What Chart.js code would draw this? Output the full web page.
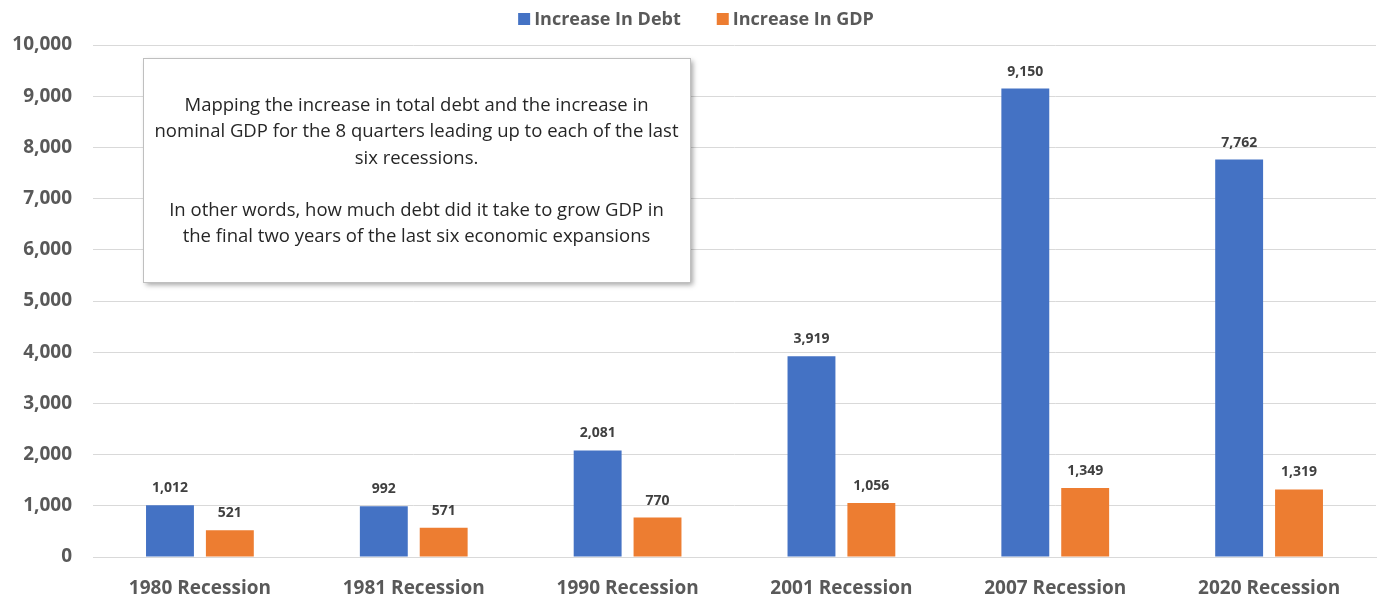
<!DOCTYPE html>
<html>
<head>
<meta charset="utf-8">
<script src="https://cdn.jsdelivr.net/npm/chart.js@4"></script>
<style>
  html, body { margin: 0; padding: 0; background: #fff; }
  #wrap { width: 1380px; height: 598px; }
</style>
</head>
<body>
<div id="wrap"><canvas id="chart"></canvas></div>
<script>
const categories = ['1980 Recession', '1981 Recession', '1990 Recession', '2001 Recession', '2007 Recession', '2020 Recession'];
const debtIncrease = [1012, 992, 2081, 3919, 9150, 7762];
const gdpIncrease = [521, 571, 770, 1056, 1349, 1319];
const noteLines = [
  'Mapping the increase in total debt and the increase in',
  'nominal GDP for the 8 quarters leading up to each of the last',
  'six recessions.',
  '',
  'In other words, how much debt did it take to grow GDP in',
  'the final two years of the last six economic expansions'
];

const FONT = '"Open Sans", sans-serif';
const GREY = '#595959';

// value labels above each bar
const barLabels = {
  id: 'barLabels',
  afterDatasetsDraw(chart) {
    const ctx = chart.ctx;
    ctx.save();
    ctx.font = 'bold 14px ' + FONT;
    ctx.fillStyle = '#404040';
    ctx.textAlign = 'center';
    ctx.textBaseline = 'middle';
    chart.data.datasets.forEach((ds, i) => {
      chart.getDatasetMeta(i).data.forEach((bar, j) => {
        ctx.fillText(ds.data[j].toLocaleString('en-US'), bar.x, bar.y - 17);
      });
    });
    ctx.restore();
  }
};

// legend drawn by hand so the item spacing can match
const topLegend = {
  id: 'topLegend',
  afterDraw(chart) {
    const ctx = chart.ctx;
    ctx.save();
    ctx.font = 'bold 18px ' + FONT;
    const items = chart.data.datasets.map(ds => ({
      text: ds.label, color: ds.backgroundColor, w: 16 + ctx.measureText(ds.label).width
    }));
    const gap = 36;
    const total = items.reduce((s, it) => s + it.w, 0) + gap * (items.length - 1);
    let x = chart.width / 2 + 6 - total / 2;
    const y = 19;
    ctx.textBaseline = 'middle';
    ctx.textAlign = 'left';
    items.forEach(it => {
      ctx.fillStyle = it.color;
      ctx.fillRect(x, y - 6, 12, 12);
      ctx.fillStyle = GREY;
      ctx.fillText(it.text, x + 16, y + 1);
      x += it.w + gap;
    });
    ctx.restore();
  }
};

// text box in the upper left
const noteBox = {
  id: 'noteBox',
  afterDraw(chart) {
    const ctx = chart.ctx;
    const x = 143, y = 58, w = 547, h = 224;
    ctx.save();
    ctx.shadowColor = 'rgba(0,0,0,0.35)';
    ctx.shadowBlur = 5;
    ctx.shadowOffsetX = 3;
    ctx.shadowOffsetY = 3;
    ctx.fillStyle = '#fff';
    ctx.fillRect(x, y, w, h);
    ctx.shadowColor = 'transparent';
    ctx.strokeStyle = '#bfbfbf';
    ctx.lineWidth = 1;
    ctx.strokeRect(x + 0.5, y + 0.5, w, h);
    ctx.fillStyle = '#262626';
    ctx.font = '18.5px ' + FONT;
    ctx.textAlign = 'center';
    ctx.textBaseline = 'middle';
    noteLines.forEach((line, i) => {
      ctx.fillText(line, x + w / 2, 106 + i * 26.2);
    });
    ctx.restore();
  }
};

new Chart(document.getElementById('chart'), {
  type: 'bar',
  data: {
    labels: categories,
    datasets: [
      { label: 'Increase In Debt', data: debtIncrease, backgroundColor: '#4472c4' },
      { label: 'Increase In GDP', data: gdpIncrease, backgroundColor: '#ed7d31' }
    ]
  },
  options: {
    responsive: true,
    maintainAspectRatio: false,
    animation: false,
    layout: { padding: { top: 45, right: 4, left: 0, bottom: 0 } },
    datasets: {
      bar: { categoryPercentage: 0.56, barPercentage: 0.8 }
    },
    plugins: {
      legend: { display: false },
      tooltip: { enabled: false }
    },
    scales: {
      x: {
        grid: { display: false },
        border: { color: '#d9d9d9' },
        ticks: {
          color: GREY,
          padding: 12,
          font: { family: FONT, size: 19, weight: 'bold' }
        },
        afterFit(scale) { scale.height = 41; }
      },
      y: {
        min: 0,
        max: 10000,
        ticks: {
          stepSize: 1000,
          color: GREY,
          padding: 21,
          font: { family: FONT, size: 19, weight: 'bold' },
          callback: v => v.toLocaleString('en-US')
        },
        grid: { color: '#d9d9d9', drawTicks: false },
        border: { display: false },
        afterFit(scale) { scale.width = 93; }
      }
    }
  },
  plugins: [barLabels, noteBox, topLegend]
});
</script>
</body>
</html>
